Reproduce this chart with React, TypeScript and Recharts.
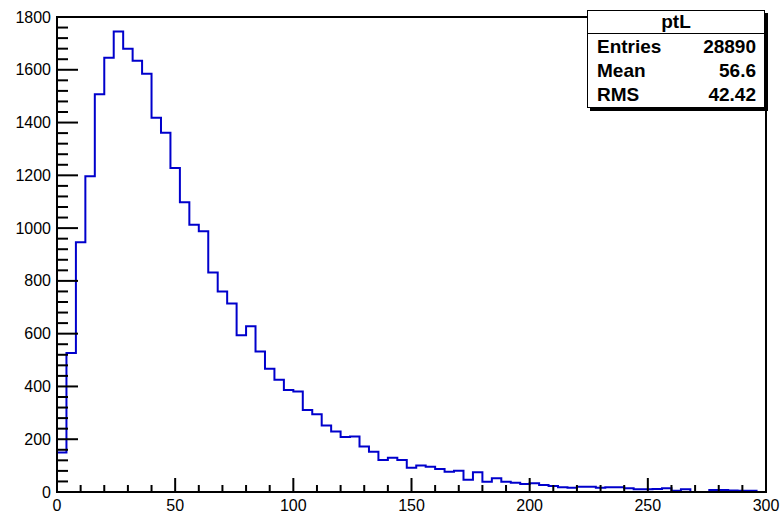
import { ComposedChart, Line, XAxis, YAxis, ReferenceArea } from "recharts";

// ptL histogram: 75 bins of width 4 between 0 and 300
const BIN_WIDTH = 4;
const counts = [
  150, 527, 946, 1197, 1507, 1646, 1745, 1680, 1634, 1585,
  1418, 1361, 1228, 1098, 1013, 988, 832, 760, 714, 594,
  628, 532, 467, 425, 387, 381, 311, 295, 252, 229,
  208, 210, 172, 153, 121, 130, 121, 92, 100, 96,
  87, 77, 81, 46, 75, 39, 52, 39, 35, 30,
  33, 27, 23, 18, 16, 20, 20, 16, 18, 18,
  14, 10, 10, 11, 14, 5, 10, 0, 0, 8,
  8, 6, 5, 5, 0,
];

const xMajor = [0, 50, 100, 150, 200, 250, 300];
const yMajor = [0, 200, 400, 600, 800, 1000, 1200, 1400, 1600, 1800];

// stats box
const statsTitle = "ptL";
const statsRows = [
  ["Entries", "28890"],
  ["Mean", "56.6"],
  ["RMS", "42.42"],
];

// step outline: one point per bin low edge + closing point at the upper edge
const data = counts.map((n, i) => ({ x: i * BIN_WIDTH, n }));
data.push({ x: counts.length * BIN_WIDTH, n: counts[counts.length - 1] });

// minor ticks: 4 between each pair of majors
const xTicks: number[] = [];
for (let v = 0; v <= 300; v += 10) xTicks.push(v);
const yTicks: number[] = [];
for (let v = 0; v <= 1800; v += 40) yTicks.push(v);

const FONT = "'Liberation Sans', Arial, Helvetica, sans-serif";

function YTick(props: any) {
  const { x, y, payload } = props;
  const major = yMajor.includes(payload.value);
  return (
    <g>
      <path d={`M${x},${y}h${major ? 21 : 11}`} stroke="#000000" strokeWidth={2} fill="none" />
      {major && (
        <text x={x - 6} y={y} textAnchor="end" dominantBaseline="central" fontFamily={FONT} fontSize={16} fill="#000">
          {payload.value}
        </text>
      )}
    </g>
  );
}

function XTick(props: any) {
  const { x, y, payload } = props;
  const major = xMajor.includes(payload.value);
  return (
    <g>
      <path d={`M${x},${y}v${major ? -14 : -7}`} stroke="#000000" strokeWidth={2} fill="none" />
      {major && (
        <text x={x} y={y + 19} textAnchor="middle" fontFamily={FONT} fontSize={16} fill="#000">
          {payload.value}
        </text>
      )}
    </g>
  );
}

export default function App() {
  return (
    <div style={{ position: "absolute", left: 0, top: 0, width: 783, height: 515, background: "#fff" }}>
      <ComposedChart width={783} height={515} data={data} margin={{ top: 17, right: 17, bottom: 0, left: 0 }}>
        <XAxis
          dataKey="x"
          type="number"
          domain={[0, 300]}
          ticks={xTicks}
          interval={0}
          height={23}
          tickSize={0}
          tickMargin={0}
          tickLine={false}
          axisLine={{ stroke: "#000", strokeWidth: 2 }}
          tick={(p: any) => <XTick {...p} />}
          allowDataOverflow
        />
        <YAxis
          type="number"
          domain={[0, 1800]}
          ticks={yTicks}
          interval={0}
          width={57}
          tickSize={0}
          tickMargin={0}
          tickLine={false}
          axisLine={{ stroke: "#000", strokeWidth: 2 }}
          tick={(p: any) => <YTick {...p} />}
          allowDataOverflow
        />
        <Line
          dataKey="n"
          type="stepAfter"
          stroke="#0000cc"
          strokeWidth={2}
          dot={false}
          activeDot={false}
          isAnimationActive={false}
        />
        <ReferenceArea x1={0} x2={300} y1={0} y2={1800} fill="none" stroke="#000" strokeWidth={2} fillOpacity={0} />
      </ComposedChart>

      <div
        style={{
          position: "absolute",
          left: 587,
          top: 10,
          width: 176,
          height: 96,
          border: "1.5px solid #000",
          boxShadow: "3px 3px 0 #000",
          background: "#fff",
          fontFamily: FONT,
          color: "#000",
        }}
      >
        <div
          style={{
            height: 22,
            borderBottom: "1.5px solid #000",
            textAlign: "center",
            fontSize: 19,
            fontWeight: "bold",
            lineHeight: "22px",
          }}
        >
          {statsTitle}
        </div>
        {statsRows.map(([k, v]) => (
          <div
            key={k}
            style={{
              display: "flex",
              justifyContent: "space-between",
              padding: "0 8px 0 9px",
              height: 24,
              lineHeight: "25px",
              fontSize: 19,
              fontWeight: "bold",
            }}
          >
            <span>{k}</span>
            <span>{v}</span>
          </div>
        ))}
      </div>
    </div>
  );
}
